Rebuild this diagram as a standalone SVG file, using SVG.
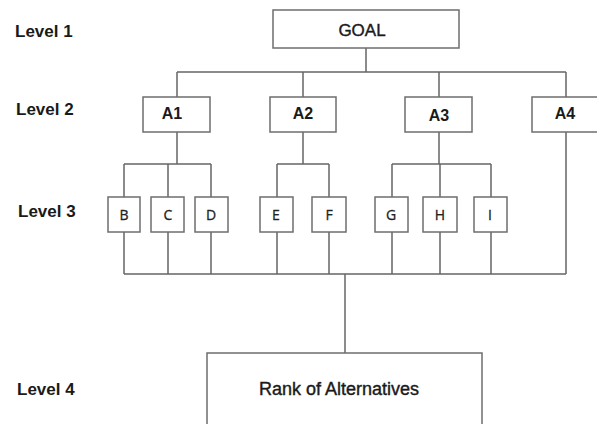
<svg xmlns="http://www.w3.org/2000/svg" width="597" height="425" viewBox="0 0 597 425">
<style>
.box{fill:#fff;stroke:#6e6e6e;stroke-width:1.5}
.ln{fill:none;stroke:#666;stroke-width:1.5}
.lvl{font-family:"Liberation Sans",Arial,sans-serif;font-weight:bold;font-size:17px;fill:#1a1a1a}
.a{font-family:"Liberation Sans",Arial,sans-serif;font-weight:bold;font-size:16px;fill:#1a1a1a;text-anchor:middle}
.g{font-family:"Liberation Sans",Arial,sans-serif;font-size:17px;fill:#1a1a1a;stroke:#1a1a1a;stroke-width:0.4;text-anchor:middle}
.s{font-family:"Open Sans","Liberation Sans",sans-serif;font-size:14px;fill:#222;stroke:#222;stroke-width:0.3;text-anchor:middle}
</style>
<rect width="597" height="425" fill="#fff"/>
<g id="labels">
<text class="lvl" x="15" y="37">Level 1</text>
<text class="lvl" x="16" y="115">Level 2</text>
<text class="lvl" x="18" y="217">Level 3</text>
<text class="lvl" x="17" y="395">Level 4</text>
</g>
<g id="connectors">
<path class="ln" d="M366 48V72M177 72H566M177 72V97M303 72V97M439 72V97M566 72V97"/>
<path class="ln" d="M177 132V164M124 164H211M124 164V197M168 164V197M211 164V197"/>
<path class="ln" d="M303 132V164M277 164H329M277 164V197M329 164V197"/>
<path class="ln" d="M439 132V164M392 164H491M392 164V197M440 164V197M491 164V197"/>
<path class="ln" d="M124 232V274M168 232V274M211 232V274M277 232V274M329 232V274M392 232V274M440 232V274M491 232V274M566 132V274M124 274H566"/>
<path class="ln" d="M345 274V353"/>
</g>
<g id="goal"><rect class="box" x="273" y="10" width="186" height="38"/><text class="g" x="362" y="36">GOAL</text></g>
<g id="a1"><rect class="box" x="143" y="97" width="67" height="35"/><text class="a" x="172" y="119">A1</text></g>
<g id="a2"><rect class="box" x="270" y="97" width="66" height="35"/><text class="a" x="303" y="119">A2</text></g>
<g id="a3"><rect class="box" x="405" y="97" width="67" height="35"/><text class="a" x="439" y="121">A3</text></g>
<g id="a4"><rect class="box" x="532" y="97" width="67" height="35"/><text class="a" x="565" y="119">A4</text></g>
<g id="b"><rect class="box" x="108" y="197" width="32" height="35"/><text class="s" x="124" y="220">B</text></g>
<g id="c"><rect class="box" x="151" y="197" width="33" height="35"/><text class="s" x="168" y="220">C</text></g>
<g id="d"><rect class="box" x="195" y="197" width="33" height="35"/><text class="s" x="211" y="220">D</text></g>
<g id="e"><rect class="box" x="260" y="197" width="33" height="35"/><text class="s" x="276" y="220">E</text></g>
<g id="f"><rect class="box" x="312" y="197" width="34" height="35"/><text class="s" x="329" y="220">F</text></g>
<g id="gn"><rect class="box" x="375" y="197" width="33" height="35"/><text class="s" x="391" y="220">G</text></g>
<g id="h"><rect class="box" x="423" y="197" width="34" height="35"/><text class="s" x="440" y="220">H</text></g>
<g id="i"><rect class="box" x="474" y="197" width="33" height="35"/><text class="s" x="490" y="220">I</text></g>
<g id="rank"><path class="box" d="M207 424V353H482V424" fill="none"/><text class="g" x="339" y="395" style="font-size:18px">Rank of Alternatives</text></g>
</svg>
